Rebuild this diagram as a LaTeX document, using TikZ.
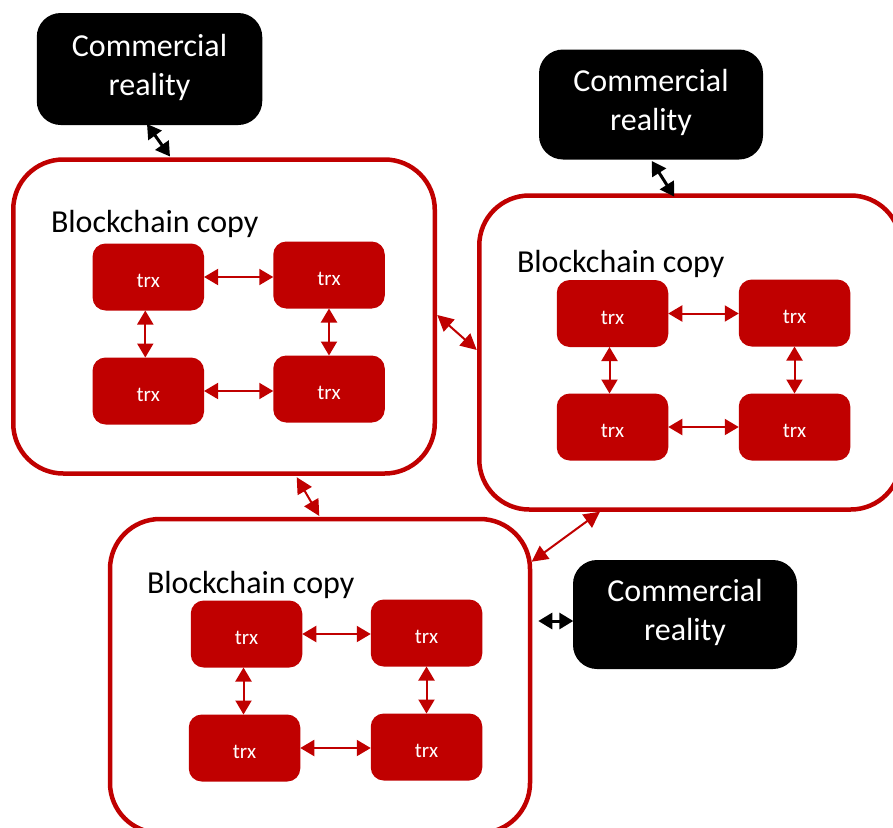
\documentclass[tikz,border=0pt]{standalone}
\usepackage{fontspec}
\setmainfont{Carlito}
\usetikzlibrary{arrows.meta,calc}
\definecolor{chainred}{RGB}{192,0,0}

\begin{document}
\begin{tikzpicture}[x=1pt,y=-1pt,
  every node/.style={outer sep=0pt, inner sep=0pt},
  copybox/.style={draw=chainred, line width=4.5pt, fill=white, rounded corners=50pt,
    minimum width=421.5pt, minimum height=314pt},
  trxbox/.style={fill=chainred, rounded corners=13pt, minimum width=111.5pt,
    minimum height=67pt, text=white, font=\fontsize{21}{25}\selectfont,
    text height=21pt, text depth=0pt},
  realbox/.style={fill=black, rounded corners=24pt, minimum width=224pt,
    minimum height=110pt, text=white, align=center,
    font=\fontsize{32}{39}\selectfont},
  title/.style={anchor=base west, font=\fontsize{32}{38}\selectfont},
  trxlink/.style={draw=chainred, line width=2pt,
    {Triangle[length=14pt,width=16pt]}-{Triangle[length=14pt,width=16pt]}},
  copylink/.style={draw=chainred, line width=2pt,
    {Triangle[length=16pt,width=16pt]}-{Triangle[length=16pt,width=16pt]}},
  reallink/.style={draw=black, line width=3pt,
    {Triangle[length=14pt,width=16pt]}-{Triangle[length=14pt,width=16pt]}},
]
\useasboundingbox (0,0) rectangle (893,827);
\fill[white] (0,0) rectangle (893,827);
\clip (0,0) rectangle (893,827);

% the three blockchain copies
\node[copybox] (c1) at (224,316.5) {};
\node[copybox] (c2) at (690,352.5) {};
\node[copybox, minimum width=420pt] (c3) at (320,676) {};

\node[title] (l1) at (51,232) {Blockchain copy};
\node[title] (l2) at (517,272) {Blockchain copy};
\node[title] (l3) at (147,593) {Blockchain copy};

% transactions inside each copy
\node[trxbox] (t11) at (148.3,277) {trx};
\node[trxbox] (t12) at (329,275) {trx};
\node[trxbox] (t13) at (148.3,391) {trx};
\node[trxbox] (t14) at (329,389) {trx};

\node[trxbox] (t21) at (612.5,313.5) {trx};
\node[trxbox] (t22) at (794.5,313) {trx};
\node[trxbox] (t23) at (612.5,427) {trx};
\node[trxbox] (t24) at (794.5,427) {trx};

\node[trxbox] (t31) at (246.5,634) {trx};
\node[trxbox] (t32) at (426.5,633) {trx};
\node[trxbox] (t33) at (244.5,748) {trx};
\node[trxbox] (t34) at (426.5,747) {trx};

% commercial reality boxes
\node[realbox, minimum width=225.5pt, minimum height=112pt] (b1) at (149.5,69)
  {Commercial\\reality\rule[-9pt]{0pt}{0pt}};
\node[realbox] (b2) at (651,104.5) {Commercial\\reality\rule[-9pt]{0pt}{0pt}};
\node[realbox, minimum height=109pt] (b3) at (685,614.5) {Commercial\\reality\rule[-9pt]{0pt}{0pt}};

% links between transactions
\foreach \i/\j/\k/\l in {t11/t12/t13/t14, t21/t22/t23/t24, t31/t32/t33/t34} {
  \draw[trxlink] (\i.east) -- (\i.east -| \j.west);
  \draw[trxlink] (\k.east) -- (\k.east -| \l.west);
  \draw[trxlink] ($(\i.south)+(-3,0)$) -- ($(\i.south |- \k.north)+(-3,0)$);
  \draw[trxlink] (\j.south) -- (\j.south |- \l.north);
}

% links between copies
\draw[copylink] ($(c1.east)+(2.5,-1.5)$) -- ($(c2.west)+(-2.5,-2.5)$);
\draw[copylink] ($(c1.south)+(72.7,3.7)$) -- ($(c3.north)+(-0.7,-3)$);
\draw[copylink] ($(c2.south)+(-90,2.2)$) -- ($(c3.east)+(1.7,-114.3)$);

% links to commercial reality
\draw[reallink] ($(b1.south)+(-2.5,-1)$) -- ($(c1.north)+(-54,-3)$);
\draw[reallink] ($(b2.south)+(0.7,1.5)$) -- ($(c2.north)+(-15.7,1.2)$);
\draw[reallink] ($(c3.east)+(8.3,-55)$) -- ($(b3.west)+(0.3,6.5)$);
\end{tikzpicture}
\end{document}
